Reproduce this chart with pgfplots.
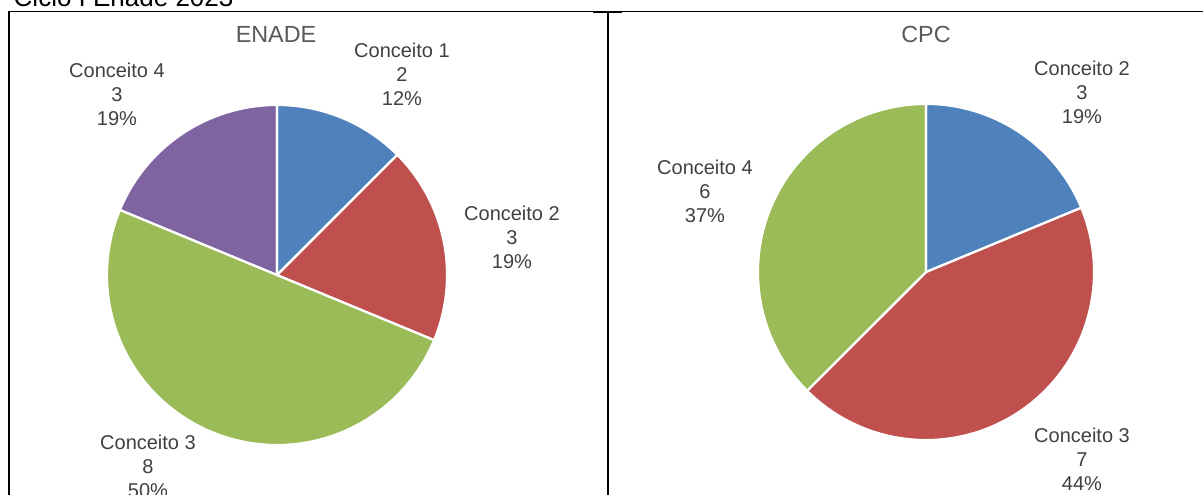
\documentclass[border=0pt]{standalone}
\usepackage{pgfplots}
\pgfplotsset{compat=1.18}
\usepackage{fontspec}
\setmainfont{Liberation Sans}
\definecolor{cblue}{HTML}{4F81BD}
\definecolor{cred}{HTML}{C0504D}
\definecolor{cgreen}{HTML}{9BBB59}
\definecolor{cpurple}{HTML}{8064A2}
\definecolor{ctext}{HTML}{404040}
\definecolor{ctitle}{HTML}{595959}
% slice: style, cx, cy, r, angle a, angle b
\newcommand\slice[6]{%
  \addplot[#1, domain=#5:#6, samples=90] ({#2+#4*cos(x)},{#3-#4*sin(x)}) -- (axis cs:#2,#3) -- cycle;}
\begin{document}
\begin{tikzpicture}
% ENADE data (Conceito 1..4)
\def\eA{2}\def\eB{3}\def\eC{8}\def\eD{3}
\pgfmathsetmacro\eT{\eA+\eB+\eC+\eD}
\pgfmathsetmacro\ea{90}
\pgfmathsetmacro\eb{\ea-360*\eA/\eT}
\pgfmathsetmacro\ec{\eb-360*\eB/\eT}
\pgfmathsetmacro\ed{\ec-360*\eC/\eT}
\pgfmathsetmacro\ee{\ed-360*\eD/\eT}
% CPC data (Conceito 2..4)
\def\cA{3}\def\cB{7}\def\cC{6}
\pgfmathsetmacro\cT{\cA+\cB+\cC}
\pgfmathsetmacro\ca{90}
\pgfmathsetmacro\cb{\ca-360*\cA/\cT}
\pgfmathsetmacro\cc{\cb-360*\cB/\cT}
\pgfmathsetmacro\cd{\cc-360*\cC/\cT}
\begin{axis}[at={(0,0)}, anchor=north west, x=0.75pt, y=0.75pt,
  xmin=0, xmax=1204, ymin=0, ymax=495, y dir=reverse, hide axis, clip=false]
% ENADE fills
\slice{fill=cblue, draw=none}{277}{275}{170}{\eb}{\ea}
\slice{fill=cred, draw=none}{277}{275}{170}{\ec}{\eb}
\slice{fill=cgreen, draw=none}{277}{275}{170}{\ed}{\ec}
\slice{fill=cpurple, draw=none}{277}{275}{170}{\ee}{\ed}
% ENADE borders
\slice{draw=white, line width=1.6pt, line join=round}{277}{275}{170}{\eb}{\ea}
\slice{draw=white, line width=1.6pt, line join=round}{277}{275}{170}{\ec}{\eb}
\slice{draw=white, line width=1.6pt, line join=round}{277}{275}{170}{\ed}{\ec}
\slice{draw=white, line width=1.6pt, line join=round}{277}{275}{170}{\ee}{\ed}
% CPC fills
\slice{fill=cblue, draw=none}{926}{272}{168}{\cb}{\ca}
\slice{fill=cred, draw=none}{926}{272}{168}{\cc}{\cb}
\slice{fill=cgreen, draw=none}{926}{272}{168}{\cd}{\cc}
% CPC borders
\slice{draw=white, line width=1.6pt, line join=round}{926}{272}{168}{\cb}{\ca}
\slice{draw=white, line width=1.6pt, line join=round}{926}{272}{168}{\cc}{\cb}
\slice{draw=white, line width=1.6pt, line join=round}{926}{272}{168}{\cd}{\cc}
% frame
\draw[line width=0.75pt] (axis cs:8,11.5) -- (axis cs:1203,11.5);
\draw[line width=1.5pt] (axis cs:9,11) -- (axis cs:9,496);
\draw[line width=1.5pt] (axis cs:608,11) -- (axis cs:608,496);
\draw[line width=1.5pt] (axis cs:593,12) -- (axis cs:622,12);
% titles
\node[anchor=base west, font=\fontsize{19.5}{22}\selectfont] at (axis cs:9,6) {Ciclo I Enade 2023};
\node[text=ctitle, font=\fontsize{17.5}{20}\selectfont] at (axis cs:276,34) {ENADE};
\node[text=ctitle, font=\fontsize{17.5}{20}\selectfont] at (axis cs:926,34) {CPC};
% labels
\tikzset{lb/.style={text=ctext, align=center, font=\fontsize{15}{18}\selectfont, inner sep=0pt}}
\node[lb] at (axis cs:402,74) {Conceito 1\\2\\12\%};
\node[lb] at (axis cs:512,237) {Conceito 2\\3\\19\%};
\node[lb] at (axis cs:148,466) {Conceito 3\\8\\50\%};
\node[lb] at (axis cs:117,94) {Conceito 4\\3\\19\%};
\node[lb] at (axis cs:1082,92) {Conceito 2\\3\\19\%};
\node[lb] at (axis cs:1082,459) {Conceito 3\\7\\44\%};
\node[lb] at (axis cs:705,191) {Conceito 4\\6\\37\%};
\end{axis}
\pgfresetboundingbox
\path[use as bounding box] (0,0) rectangle (903pt,-371.25pt);
\end{tikzpicture}
\end{document}
